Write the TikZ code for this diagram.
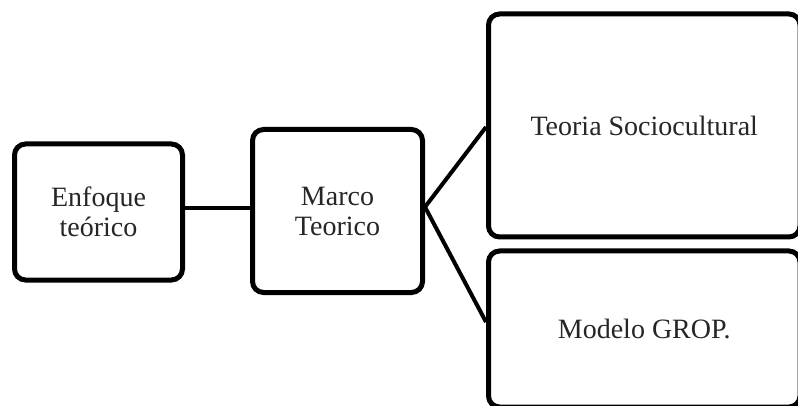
\documentclass[tikz,border=0pt]{standalone}
\usepackage{fontspec}
\setmainfont{Liberation Serif}
\begin{document}
\begin{tikzpicture}[x=1pt,y=1pt,
  box/.style={draw=black, line width=5pt, rounded corners=11pt, fill=white,
    align=center, inner sep=0pt, text=black!85,
    font=\fontsize{28}{30}\selectfont},
  conn/.style={draw=black, line width=4pt}]
\useasboundingbox (0,0) rectangle (798,-406);
\begin{scope}
\clip (0,0) rectangle (798,-406);
\node[box, minimum width=168pt, minimum height=136pt] (b1) at (98.5,-212) {Enfoque\\teórico};
\node[box, minimum width=170pt, minimum height=163pt] (b2) at (337.5,-211) {Marco\\Teorico};
\node[box, minimum width=311.5pt, minimum height=223pt] (b3) at (644.25,-125.5) {Teoria Sociocultural};
\node[box, minimum width=311.5pt, minimum height=156pt, text depth=0pt] (b4) at (644.25,-329) {Modelo GROP.};
\coordinate (hub) at ([yshift=4pt]b2.east);
\draw[conn] ([yshift=4pt]b1.east) -- ([yshift=3pt]b2.west);
\draw[conn] (hub) -- ([yshift=-1.5pt]b3.west);
\draw[conn] (hub) -- ([yshift=7pt]b4.west);
\end{scope}
\end{tikzpicture}
\end{document}
